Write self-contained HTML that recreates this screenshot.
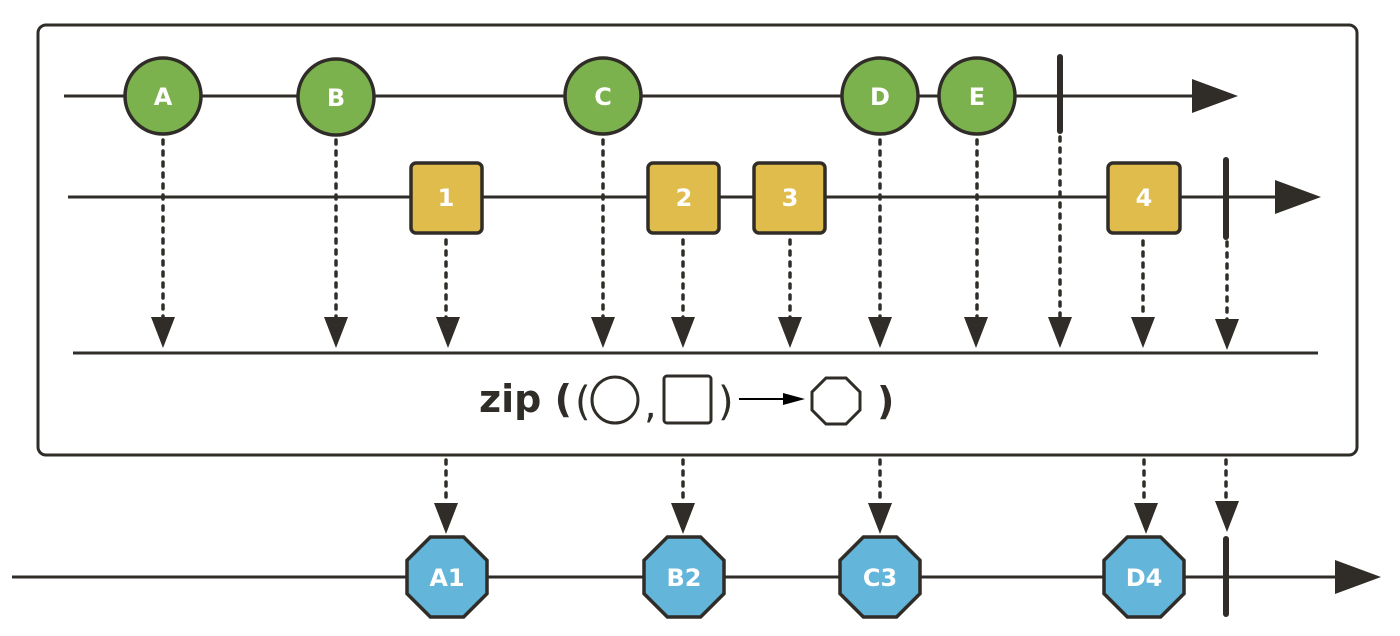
<!DOCTYPE html>
<html><head><meta charset="utf-8"><style>
html,body{margin:0;padding:0;background:#fff;}
svg{display:block;}
text{font-family:"DejaVu Sans","Liberation Sans",sans-serif;font-weight:bold;fill:#fff;}
</style></head><body>
<svg width="1400" height="636" viewBox="0 0 1400 636" xmlns="http://www.w3.org/2000/svg">
<defs>
<polygon id="oct" points="-16.6,-40 16.6,-40 40,-16.6 40,16.6 16.6,40 -16.6,40 -40,16.6 -40,-16.6" fill="#63b5da" stroke="#302d28" stroke-width="3.5"/>
<polygon id="ah" points="-12,-31 12,-31 0,0" fill="#302d28"/>
</defs>
<g stroke="#302d28" fill="none">
<rect x="38" y="25" width="1319" height="430" rx="8" stroke-width="3"/>
<line x1="64" y1="96" x2="1198" y2="96" stroke-width="3"/>
<line x1="68" y1="197" x2="1280" y2="197" stroke-width="3"/>
<line x1="73" y1="353" x2="1318" y2="353" stroke-width="3"/>
<line x1="12" y1="577" x2="1338" y2="577" stroke-width="3"/>
<g stroke-width="3.5" stroke-dasharray="4,7" stroke-linecap="round">
<line x1="163" y1="140" x2="163" y2="318"/>
<line x1="336" y1="140" x2="336" y2="318"/>
<line x1="446" y1="240" x2="446" y2="318"/>
<line x1="603" y1="140" x2="603" y2="318"/>
<line x1="683" y1="240" x2="683" y2="318"/>
<line x1="790" y1="240" x2="790" y2="318"/>
<line x1="880" y1="140" x2="880" y2="318"/>
<line x1="977" y1="140" x2="977" y2="318"/>
<line x1="1060" y1="137" x2="1060" y2="318"/>
<line x1="1143" y1="241" x2="1143" y2="318"/>
<line x1="1227" y1="242" x2="1227" y2="320"/>
<line x1="446" y1="460" x2="446" y2="502"/>
<line x1="683" y1="460" x2="683" y2="502"/>
<line x1="880" y1="460" x2="880" y2="502"/>
<line x1="1144" y1="460" x2="1144" y2="502"/>
<line x1="1226" y1="460" x2="1226" y2="502"/>
</g>
<g stroke-width="6" stroke-linecap="round">
<line x1="1060" y1="57" x2="1060" y2="131"/>
<line x1="1226" y1="160" x2="1226" y2="237"/>
<line x1="1226" y1="539" x2="1226" y2="614"/>
</g>
</g>
<g fill="#302d28">
<polygon points="1192,79 1238,96 1192,113"/>
<polygon points="1275,180 1321,197 1275,214"/>
<polygon points="1335,560 1381,577 1335,594"/>
</g>
<use href="#ah" x="163" y="348"/><use href="#ah" x="336" y="348"/><use href="#ah" x="448" y="348"/>
<use href="#ah" x="603" y="348"/><use href="#ah" x="683" y="348"/><use href="#ah" x="790" y="348"/>
<use href="#ah" x="880" y="348"/><use href="#ah" x="976" y="348"/><use href="#ah" x="1060" y="348"/>
<use href="#ah" x="1143" y="348"/><use href="#ah" x="1227" y="350"/>
<use href="#ah" x="446" y="534"/><use href="#ah" x="683" y="534"/><use href="#ah" x="880" y="534"/>
<use href="#ah" x="1146" y="534"/><use href="#ah" x="1227" y="532"/>
<g fill="#7cb24e" stroke="#302d28" stroke-width="3.5">
<circle cx="163" cy="96" r="38"/><circle cx="336" cy="97" r="38"/><circle cx="603" cy="96" r="38"/>
<circle cx="880" cy="96" r="38"/><circle cx="977" cy="96" r="38"/>
</g>
<g fill="#e0bc4c" stroke="#302d28" stroke-width="3.5">
<rect x="411" y="163" width="71" height="70" rx="5"/>
<rect x="648" y="163" width="71" height="70" rx="5"/>
<rect x="754" y="163" width="71" height="70" rx="5"/>
<rect x="1108" y="163" width="72" height="70" rx="5"/>
</g>
<use href="#oct" x="447" y="577"/><use href="#oct" x="684" y="577"/><use href="#oct" x="880" y="577"/><use href="#oct" x="1144" y="577"/>
<g font-size="24" text-anchor="middle">
<text x="163" y="105">A</text><text x="336" y="106">B</text><text x="603" y="105">C</text>
<text x="880" y="105">D</text><text x="977" y="105">E</text>
<text x="446" y="206">1</text><text x="684" y="206">2</text><text x="790" y="206">3</text><text x="1144" y="206">4</text>
<text x="447" y="586">A1</text><text x="684" y="586">B2</text><text x="880" y="586">C3</text><text x="1144" y="586">D4</text>
</g>
<text x="479" y="412" font-size="38" style="fill:#302d28">zip (</text>
<text x="575" y="415" font-size="40" style="fill:#302d28;font-weight:normal">(</text>
<circle cx="615" cy="400" r="23" fill="none" stroke="#302d28" stroke-width="3"/>
<text x="644" y="418" font-size="40" style="fill:#302d28;font-weight:normal">,</text>
<rect x="664" y="376" width="47" height="47" rx="3" fill="none" stroke="#302d28" stroke-width="3"/>
<text x="718" y="415" font-size="40" style="fill:#302d28;font-weight:normal">)</text>
<line x1="739" y1="399" x2="790" y2="399" stroke="#000" stroke-width="2"/>
<polygon points="783,393 805,399 783,405" fill="#000"/>
<polygon points="826,378 846,378 860,392 860,410 846,424 826,424 812,410 812,392" fill="none" stroke="#302d28" stroke-width="3"/>
<text x="877" y="414" font-size="38" style="fill:#302d28">)</text>
</svg>
</body></html>
